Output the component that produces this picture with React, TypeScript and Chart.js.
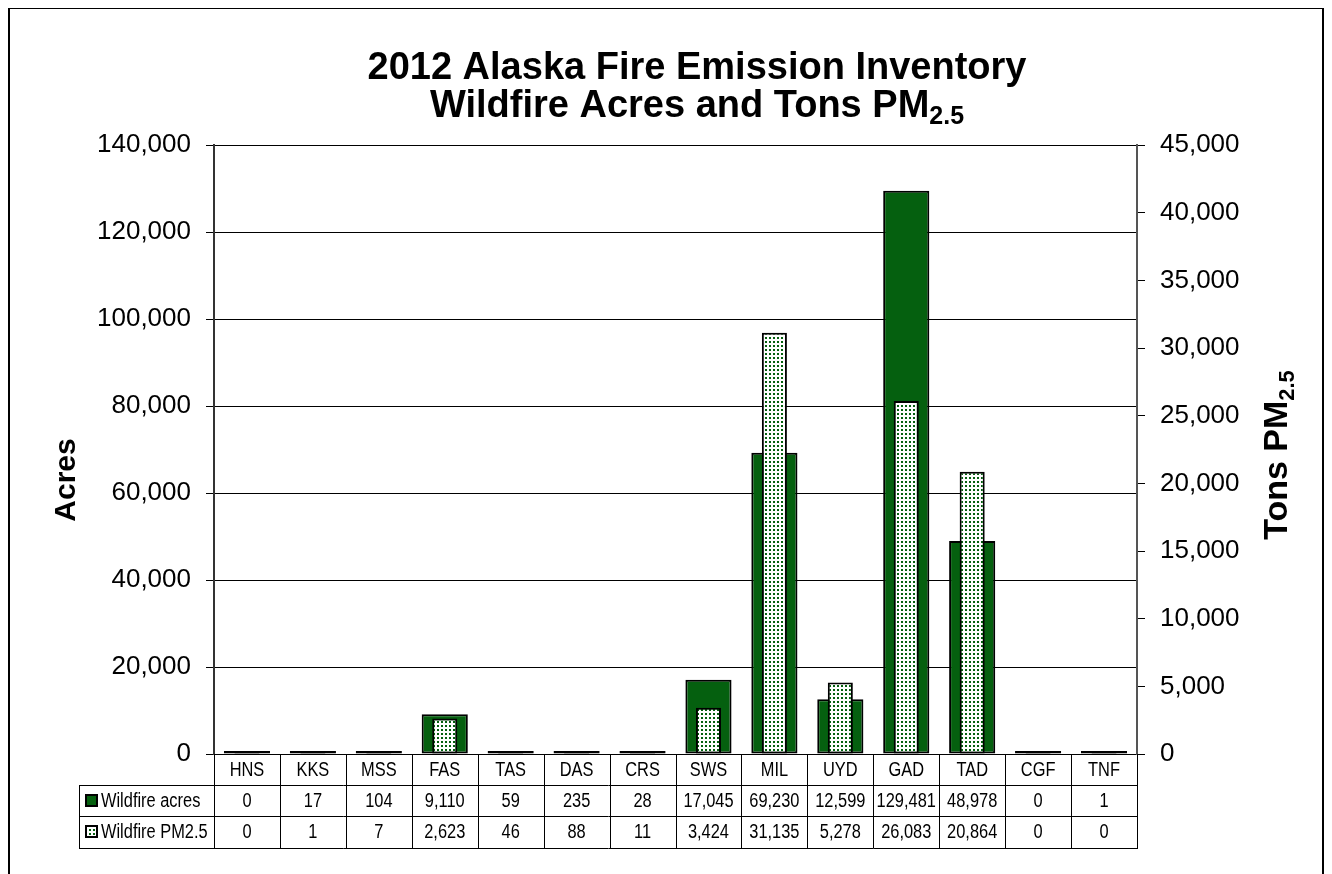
import React, { useEffect, useRef } from 'react';
import { Chart, registerables } from 'chart.js';

Chart.register(...registerables);

const categories = ['HNS', 'KKS', 'MSS', 'FAS', 'TAS', 'DAS', 'CRS', 'SWS', 'MIL', 'UYD', 'GAD', 'TAD', 'CGF', 'TNF'];
const wildfireAcres = [0, 17, 104, 9110, 59, 235, 28, 17045, 69230, 12599, 129481, 48978, 0, 1];
const wildfirePM25 = [0, 1, 7, 2623, 46, 88, 11, 3424, 31135, 5278, 26083, 20864, 0, 0];
const seriesNames = ['Wildfire acres', 'Wildfire PM2.5'];
const titleLine1 = '2012 Alaska Fire Emission Inventory';
const titleLine2 = 'Wildfire Acres and Tons PM';
const titleSub = '2.5';
const leftAxisTitle = 'Acres';
const rightAxisTitle = 'Tons PM';
const leftAxisRange = [0, 140000, 20000];
const rightAxisRange = [0, 45000, 5000];

const GREEN = '#05600f';
const F = '"Liberation Sans", Arial, sans-serif';

const fmt = (v: number) => Number(v).toLocaleString('en-US');

function makePattern(): CanvasPattern | string {
  const c = document.createElement('canvas');
  c.width = 4;
  c.height = 4;
  const g = c.getContext('2d');
  if (!g) return '#ffffff';
  g.fillStyle = '#ffffff';
  g.fillRect(0, 0, 4, 4);
  g.fillStyle = GREEN;
  g.fillRect(1, 1, 2, 2);
  const p = g.createPattern(c, 'repeat');
  return p || '#ffffff';
}

function narrowText(ctx: CanvasRenderingContext2D, text: string, x: number, y: number) {
  ctx.save();
  ctx.translate(x, y);
  ctx.scale(0.82, 1);
  ctx.fillText(text, 0, 0);
  ctx.restore();
}

export default function App() {
  const ref = useRef<HTMLCanvasElement | null>(null);

  useEffect(() => {
    document.body.style.overflow = 'hidden';
    const canvas = ref.current;
    if (!canvas) return;
    const pattern = makePattern();

    const decor = {
      id: 'decor',
      afterDraw(chart: any) {
        const ctx = chart.ctx as CanvasRenderingContext2D;
        const area = chart.chartArea;
        const xs = chart.scales.x;
        ctx.save();

        // outer frame (bottom edge falls outside the page)
        ctx.strokeStyle = '#000';
        ctx.lineWidth = 2;
        ctx.beginPath();
        ctx.moveTo(1, chart.height);
        ctx.lineTo(1, 0);
        ctx.lineTo(1315, 0);
        ctx.lineTo(1315, chart.height);
        ctx.stroke();

        // title
        ctx.fillStyle = '#000';
        ctx.textBaseline = 'alphabetic';
        ctx.font = `bold 38px ${F}`;
        ctx.textAlign = 'center';
        const cx = 689;
        ctx.fillText(titleLine1, cx, 71);
        const mainW = ctx.measureText(titleLine2).width;
        ctx.font = `bold 25px ${F}`;
        const subW = ctx.measureText(titleSub).width;
        const sx = cx - (mainW + subW) / 2;
        ctx.textAlign = 'left';
        ctx.font = `bold 38px ${F}`;
        ctx.fillText(titleLine2, sx, 109);
        ctx.font = `bold 25px ${F}`;
        ctx.fillText(titleSub, sx + mainW, 116);

        // left axis title
        ctx.save();
        ctx.translate(59, 472);
        ctx.rotate(-Math.PI / 2);
        ctx.font = `bold 30px ${F}`;
        ctx.textAlign = 'center';
        ctx.textBaseline = 'middle';
        ctx.fillText(leftAxisTitle, 0, 0);
        ctx.restore();

        // right axis title
        ctx.save();
        ctx.translate(1267, 447);
        ctx.rotate(-Math.PI / 2);
        ctx.font = `bold 34px ${F}`;
        const rw = ctx.measureText(rightAxisTitle).width;
        ctx.font = `bold 22px ${F}`;
        const rsw = ctx.measureText(titleSub).width;
        const rx = -(rw + rsw) / 2;
        ctx.textAlign = 'left';
        ctx.textBaseline = 'alphabetic';
        ctx.font = `bold 34px ${F}`;
        ctx.fillText(rightAxisTitle, rx, 12);
        ctx.font = `bold 22px ${F}`;
        ctx.fillText(titleSub, rx + rw, 19);
        ctx.restore();

        // data table
        const top = area.bottom;
        const r1 = top + 31;
        const r2 = r1 + 31;
        const r3 = r2 + 32;
        const legL = 71;
        const n = categories.length;
        const cw = (area.right - area.left) / n;
        ctx.strokeStyle = '#000';
        ctx.lineWidth = 1;
        ctx.beginPath();
        for (let i = 0; i <= n; i++) {
          const x = Math.round(area.left + i * cw) + 0.5;
          ctx.moveTo(x, top);
          ctx.lineTo(x, r3);
        }
        [r1, r2, r3].forEach((y) => {
          ctx.moveTo(legL, y + 0.5);
          ctx.lineTo(area.right + 1, y + 0.5);
        });
        ctx.moveTo(legL + 0.5, r1);
        ctx.lineTo(legL + 0.5, r3 + 1);
        ctx.stroke();

        ctx.fillStyle = '#000';
        ctx.font = `20px ${F}`;
        ctx.textAlign = 'center';
        ctx.textBaseline = 'middle';
        for (let i = 0; i < n; i++) {
          const x = xs.getPixelForValue(i);
          narrowText(ctx, categories[i], x, top + 16);
          narrowText(ctx, fmt(wildfireAcres[i]), x, r1 + 16);
          narrowText(ctx, fmt(wildfirePM25[i]), x, r2 + 16);
        }
        ctx.textAlign = 'left';
        narrowText(ctx, seriesNames[0], 93, r1 + 16);
        narrowText(ctx, seriesNames[1], 93, r2 + 16);

        // legend keys
        const keys: any[] = [GREEN, pattern];
        [r1, r2].forEach((y, k) => {
          ctx.fillStyle = keys[k];
          ctx.fillRect(78, y + 10, 11, 11);
          ctx.lineWidth = 2;
          ctx.strokeStyle = '#000';
          ctx.strokeRect(78, y + 10, 11, 11);
        });

        ctx.restore();
      },
    };

    const chart = new Chart(canvas, {
      type: 'bar',
      data: {
        labels: categories,
        datasets: [
          {
            label: seriesNames[0],
            data: wildfireAcres,
            yAxisID: 'y',
            backgroundColor: GREEN,
            borderColor: '#000',
            borderWidth: 2,
            borderSkipped: false,
            barPercentage: 0.7,
            categoryPercentage: 1,
            grouped: false,
            minBarLength: 3,
            order: 1,
          },
          {
            label: seriesNames[1],
            data: wildfirePM25,
            yAxisID: 'y1',
            backgroundColor: pattern as any,
            borderColor: '#000',
            borderWidth: 2,
            borderSkipped: false,
            barPercentage: 0.38,
            categoryPercentage: 1,
            grouped: false,
            minBarLength: 3,
            order: 0,
          },
        ],
      },
      options: {
        responsive: false,
        animation: false,
        layout: { padding: { top: 137, bottom: 120, left: 0, right: 0 } },
        plugins: {
          legend: { display: false },
          title: { display: false },
          tooltip: { enabled: false },
        },
        scales: {
          x: { display: false, offset: true },
          y: {
            position: 'left',
            min: leftAxisRange[0],
            max: leftAxisRange[1],
            afterFit: (s: any) => {
              s.width = 206;
            },
            ticks: {
              stepSize: leftAxisRange[2],
              padding: 15,
              color: '#000',
              font: { family: F, size: 26 },
              callback: (v: any) => fmt(v),
            },
            grid: { color: '#000', lineWidth: 1, tickLength: 8 },
            border: { display: true, color: '#333', width: 2 },
          },
          y1: {
            position: 'right',
            min: rightAxisRange[0],
            max: rightAxisRange[1],
            afterFit: (s: any) => {
              s.width = 195;
            },
            ticks: {
              stepSize: rightAxisRange[2],
              padding: 15,
              color: '#000',
              font: { family: F, size: 26 },
              callback: (v: any) => fmt(v),
            },
            grid: { drawOnChartArea: false, color: '#000', tickLength: 8 },
            border: { display: true, color: '#555', width: 2 },
          },
        },
      },
      plugins: [decor],
    });

    return () => chart.destroy();
  }, []);

  return (
    <div style={{ width: 1324, height: 866, overflow: 'hidden' }}>
      <canvas ref={ref} width={1324} height={866} style={{ display: 'block', width: 1324, height: 866 }} />
    </div>
  );
}
